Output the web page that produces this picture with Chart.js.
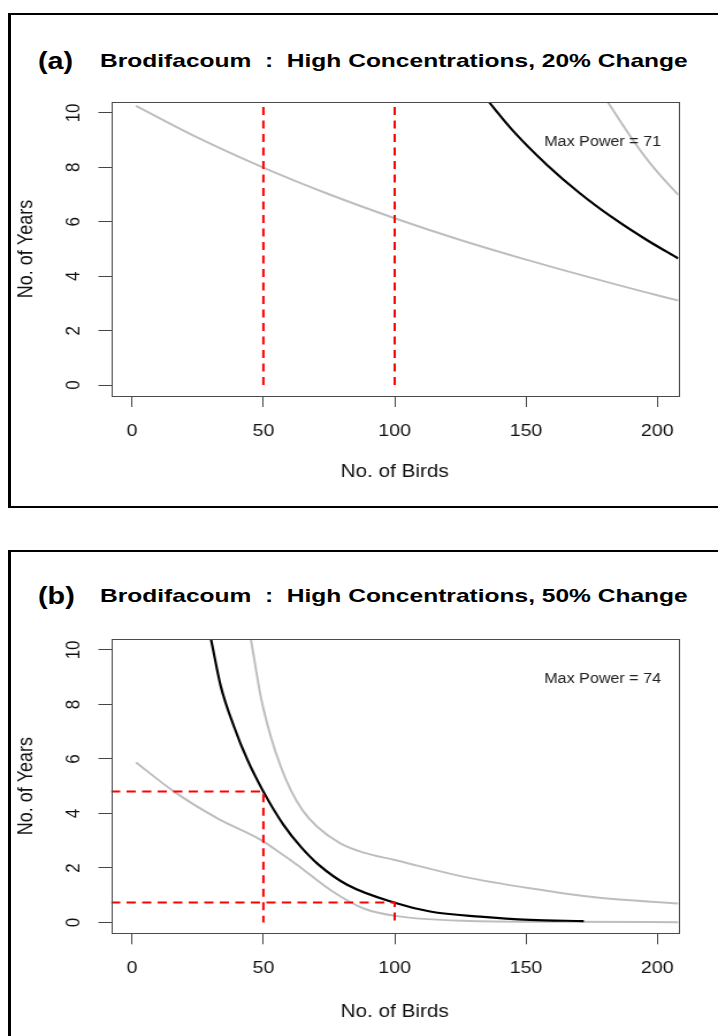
<!DOCTYPE html>
<html>
<head>
<meta charset="utf-8">
<script src="https://cdn.jsdelivr.net/npm/chart.js@4.4.1/dist/chart.umd.min.js"></script>
<style>
    body { margin: 0; background: #fff; width: 718px; height: 1036px; overflow: hidden; position: relative;
           font-family: "Liberation Sans", Arial, sans-serif; }
    .panel { position: absolute; left: 8px; width: 760px; box-sizing: border-box;
             border: 2px solid #000; border-left-width: 3px; border-right: none; }
    #panelA { top: 13px; height: 495px; }
    #panelB { top: 550px; height: 520px; border-bottom: none; }
    canvas { position: absolute; left: 0; width: 718px; }
    .tag, .title { position: absolute; font-weight: bold; line-height: 1; white-space: pre;
                   transform-origin: 0 0; color: #000; }
    .tag { font-size: 23px; transform: scaleX(1.25); left: 38px; }
    .title { font-size: 18.6px; transform: scaleX(1.32); left: 100px; }
</style>
</head>
<body>
<div class="panel" id="panelA"></div>
<div class="panel" id="panelB"></div>
<div class="tag" style="top:50px">(a)</div>
<div class="title" style="top:52px">Brodifacoum  :  High Concentrations, 20% Change</div>
<div class="tag" style="top:585px">(b)</div>
<div class="title" style="top:587px">Brodifacoum  :  High Concentrations, 50% Change</div>
<canvas id="chartA" width="624" height="520" style="top:0;height:520px"></canvas>
<canvas id="chartB" width="624" height="496" style="top:540px;height:496px"></canvas>
<script>
// axes
const xTicks = [0, 50, 100, 150, 200];
const yTicks = [0, 2, 4, 6, 8, 10];
const xMin = -8, xMax = 208, yMin = -0.4, yMax = 10.4;

// (a) 20% change
const birdsLowA = [1.5, 25, 50, 75, 100, 125, 150, 175, 200, 208];
const yearsLowA = [10.26, 9.09, 7.99, 7.01, 6.13, 5.33, 4.61, 3.94, 3.3, 3.11];
const birdsMidA = [135.7, 145, 158, 170.5, 183, 196, 208];
const yearsMidA = [10.42, 9.35, 8.09, 7.05, 6.15, 5.33, 4.65];
const birdsHighA = [181, 189.4, 195.8, 202.1, 208];
const yearsHighA = [10.42, 9.19, 8.33, 7.6, 6.99];
const markBirdsA = [50, 100];
const maxPowerA = 71;

// (b) 50% change
const birdsLowB = [1.5, 16, 32.5, 49, 56.6, 62.9, 75.5, 88.2, 100.9, 126, 164, 208];
const yearsLowB = [5.87, 4.8, 3.82, 3.03, 2.54, 2.11, 1.19, 0.51, 0.23, 0.06, 0.02, 0.01];
const birdsMidB = [30, 33.8, 38.8, 43.9, 50, 57.8, 64.2, 71.1, 81.9, 100, 113.5, 132.5, 151.5, 172];
const yearsMidB = [10.42, 8.66, 7.19, 5.97, 4.8, 3.56, 2.78, 2.11, 1.38, 0.72, 0.4, 0.21, 0.09, 0.05];
const birdsHighB = [45.2, 49, 52.8, 56.6, 60.4, 64.8, 70.5, 79.3, 88.2, 100, 126, 151.5, 177, 208];
const yearsHighB = [10.42, 8.29, 6.82, 5.72, 4.86, 4.13, 3.51, 2.9, 2.56, 2.29, 1.68, 1.25, 0.91, 0.69];
const markBirdsB = [50, 100];
const markYearsB = [4.8, 0.73];
const maxPowerB = 74;

const FONT = "'Liberation Sans', Arial, sans-serif";
Chart.defaults.font.family = FONT;

const toPoints = (xs, ys) => xs.map((x, i) => ({ x: x, y: ys[i] }));

const curve = (xs, ys, color, width) => ({
    data: toPoints(xs, ys),
    borderColor: color,
    borderWidth: width,
    cubicInterpolationMode: "monotone"
});

const redLine = points => ({
    data: points,
    borderColor: "#ff0000",
    borderWidth: 2,
    borderDash: [8, 5.5],
    tension: 0
});

// box round the plot, rotated y labels (R style) and the max power note
const rBox = {
    id: "rBox",
    afterDraw(chart, args, opts) {
        const { ctx, chartArea: a, scales } = chart;
        ctx.save();
        ctx.strokeStyle = "#4a4a4a";
        ctx.lineWidth = 1;
        ctx.strokeRect(Math.round(a.left) + 0.5, Math.round(a.top) + 0.5,
            Math.round(a.right - a.left), Math.round(a.bottom - a.top));

        ctx.fillStyle = "#111";
        ctx.font = "17px " + FONT;
        ctx.textAlign = "center";
        ctx.textBaseline = "middle";
        yTicks.forEach(v => {
            ctx.save();
            ctx.translate(a.left - 32, scales.y.getPixelForValue(v));
            ctx.rotate(-Math.PI / 2);
            ctx.fillText(String(v), 0, 0);
            ctx.restore();
        });

        ctx.fillStyle = "#222";
        ctx.font = "14px " + FONT;
        ctx.textAlign = "right";
        ctx.fillText(opts.note, a.right - 15, a.top + 40);
        ctx.restore();
    }
};

function drawPanel(id, datasets, note, pad) {
    return new Chart(document.getElementById(id), {
        type: "line",
        data: { datasets: datasets },
        options: {
            responsive: false,
            animation: false,
            devicePixelRatio: 1,
            layout: { padding: { top: pad.top, bottom: pad.bottom, left: 0, right: 34.5 } },
            elements: { point: { radius: 0 } },
            plugins: {
                legend: { display: false },
                tooltip: { enabled: false },
                rBox: { note: note }
            },
            scales: {
                x: {
                    type: "linear",
                    min: xMin,
                    max: xMax,
                    afterBuildTicks: s => { s.ticks = xTicks.map(v => ({ value: v })); },
                    grid: { drawOnChartArea: false, tickLength: 11, color: "#444" },
                    border: { display: false },
                    ticks: { font: { size: 17 }, color: "#111", padding: 14, maxRotation: 0, autoSkip: false },
                    title: { display: true, text: "No. of Birds", font: { size: 18 }, color: "#111",
                             padding: { top: pad.title, bottom: 4 } }
                },
                y: {
                    type: "linear",
                    min: yMin,
                    max: yMax,
                    afterBuildTicks: s => { s.ticks = yTicks.map(v => ({ value: v })); },
                    grid: { drawOnChartArea: false, tickLength: 11, color: "#444" },
                    border: { display: false },
                    ticks: { display: false },
                    title: { display: true, text: "No. of Years", font: { size: 18 }, color: "#111",
                             padding: { top: 11.8, bottom: 52.1 } }
                }
            }
        },
        plugins: [rBox]
    });
}

const datasetsA = [
    ...markBirdsA.map(b => redLine([{ x: b, y: 0 }, { x: b, y: yMax }])),
    curve(birdsMidA, yearsMidA, "#000", 2.2),
    curve(birdsLowA, yearsLowA, "#bebebe", 2),
    curve(birdsHighA, yearsHighA, "#bebebe", 2)
];

const datasetsB = [
    ...markBirdsB.map((b, i) => redLine([
        { x: xMin, y: markYearsB[i] }, { x: b, y: markYearsB[i] }, { x: b, y: 0 }
    ])),
    curve(birdsMidB, yearsMidB, "#000", 2.2),
    curve(birdsLowB, yearsLowB, "#bebebe", 2),
    curve(birdsHighB, yearsHighB, "#bebebe", 2)
];

drawPanel("chartA", datasetsA, "Max Power = " + maxPowerA, { top: 102, bottom: 33.5, title: 5.5 });
drawPanel("chartB", datasetsB, "Max Power = " + maxPowerB, { top: 99, bottom: 9.5, title: 8.2 });
</script>
</body>
</html>
